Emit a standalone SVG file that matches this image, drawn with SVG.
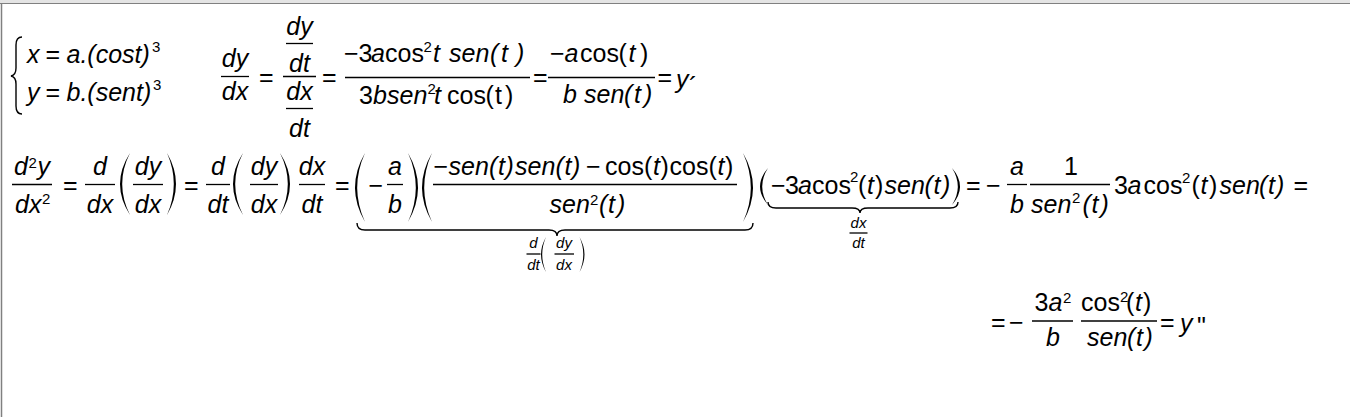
<svg xmlns="http://www.w3.org/2000/svg" width="1350" height="417" viewBox="0 0 1350 417">
<style>
text{font-family:"Liberation Sans",Arial,sans-serif;font-size:25px;fill:#000}
.i{font-style:italic}
.s{font-size:15px}
.l{font-size:15px;font-style:italic;text-anchor:middle}
.m{text-anchor:middle}
.bar{stroke:#000;stroke-width:1.3}
.pa{fill:#000}
.br{fill:none;stroke:#000;stroke-width:1.4}
</style>
<rect width="1350" height="417" fill="#fff"/>
<g id="frame">
<rect width="1350" height="3" fill="#e4e4e4"/>
<line x1="0" y1="3.5" x2="1350" y2="3.5" stroke="#808080"/>
<line x1="1.5" y1="3" x2="1.5" y2="417" stroke="#808080" stroke-width="1.5"/>
</g>
<g id="system">
<path class="br" d="M22,37 Q16,37 16,45 L16,68 Q16,75 11,76 Q16,77 16,84 L16,106 Q16,114 22,114"/>
<text x="27" y="63" class="i">x</text>
<text x="45.5" y="63">=</text>
<text x="66.5" y="63" class="i">a.(cost)</text>
<text x="152" y="52" class="s">3</text>
<text x="27" y="101" class="i">y</text>
<text x="45.5" y="101">=</text>
<text x="66.5" y="101" class="i">b.(sent)</text>
<text x="153" y="90" class="s">3</text>
</g>
<g id="first-derivative">
<text x="235" y="67" class="i m">dy</text>
<line class="bar" x1="221" y1="76.5" x2="249" y2="76.5"/>
<text x="235" y="100" class="i m">dx</text>
<text x="259" y="86">=</text>
<text x="299.5" y="35" class="i m">dy</text>
<line class="bar" x1="286" y1="43.5" x2="313" y2="43.5"/>
<text x="299.5" y="72" class="i m">dt</text>
<line class="bar" x1="283" y1="76.5" x2="316" y2="76.5"/>
<text x="299.5" y="100" class="i m">dx</text>
<line class="bar" x1="286" y1="108.5" x2="313" y2="108.5"/>
<text x="299.5" y="137" class="i m">dt</text>
<text x="322" y="86">=</text>
<text x="344" y="62">−3</text>
<text x="371" y="62" class="i">a</text>
<text x="385" y="62">cos</text>
<text x="423.5" y="52" class="s">2</text>
<text x="433" y="62" class="i">t</text>
<text x="449" y="62" class="i">sen</text>
<text x="490" y="62" class="i">(</text>
<text x="501" y="62" class="i">t</text>
<text x="516" y="62" class="i">)</text>
<line class="bar" x1="345" y1="77.5" x2="530" y2="77.5"/>
<text x="359" y="104">3</text>
<text x="373" y="104" class="i">b</text>
<text x="387" y="104" class="i">sen</text>
<text x="427.5" y="94" class="s">2</text>
<text x="434" y="104" class="i">t</text>
<text x="447" y="104">cos</text>
<text x="485.5" y="104">(</text>
<text x="495" y="104">t</text>
<text x="505" y="104">)</text>
<text x="533" y="86">=</text>
<text x="550" y="62">−</text>
<text x="564.5" y="62" class="i">a</text>
<text x="580" y="62">cos</text>
<text x="618.5" y="62">(</text>
<text x="628.5" y="62" class="i">t</text>
<text x="640" y="62">)</text>
<line class="bar" x1="548" y1="77.5" x2="655" y2="77.5"/>
<text x="563" y="103" class="i">b</text>
<text x="584" y="103" class="i">sen</text>
<text x="624" y="103" class="i">(</text>
<text x="634" y="103" class="i">t</text>
<text x="644" y="103" class="i">)</text>
<text x="657.5" y="86">=</text>
<text x="676" y="88" class="i">y</text>
<text x="689" y="95">´</text>
</g>
<g id="second-derivative">
<text x="14" y="175" class="i">d</text>
<text x="28.5" y="168" class="s">2</text>
<text x="37.5" y="175" class="i">y</text>
<line class="bar" x1="12" y1="184.5" x2="52" y2="184.5"/>
<text x="15" y="213" class="i">dx</text>
<text x="42" y="204" class="s">2</text>
<text x="63" y="194">=</text>
<text x="100" y="175" class="i m">d</text>
<line class="bar" x1="85" y1="184.5" x2="115" y2="184.5"/>
<text x="100" y="213" class="i m">dx</text>
<path class="pa" d="M130,153 Q110,184 130,215 Q114.4,184 130,153Z"/>
<text x="148" y="175" class="i m">dy</text>
<line class="bar" x1="133" y1="184.5" x2="163" y2="184.5"/>
<text x="148" y="213" class="i m">dx</text>
<path class="pa" d="M167,153 Q185,184 167,215 Q180.6,184 167,153Z"/>
<text x="184" y="194">=</text>
<text x="218" y="175" class="i m">d</text>
<line class="bar" x1="206" y1="184.5" x2="230" y2="184.5"/>
<text x="218" y="213" class="i m">dt</text>
<path class="pa" d="M243,153 Q223,184 243,215 Q227.4,184 243,153Z"/>
<text x="264" y="175" class="i m">dy</text>
<line class="bar" x1="250" y1="184.5" x2="278" y2="184.5"/>
<text x="264" y="213" class="i m">dx</text>
<path class="pa" d="M280,153 Q300,184 280,215 Q295.6,184 280,153Z"/>
<text x="312" y="175" class="i m">dx</text>
<line class="bar" x1="299" y1="184.5" x2="325" y2="184.5"/>
<text x="312" y="213" class="i m">dt</text>
<text x="335" y="194">=</text>
<path class="pa" d="M365,153 Q345,187.5 365,222 Q349.4,187.5 365,153Z"/>
<text x="368.5" y="194">−</text>
<text x="395" y="175" class="i m">a</text>
<line class="bar" x1="387" y1="184.5" x2="403" y2="184.5"/>
<text x="395" y="213" class="i m">b</text>
<path class="pa" d="M408,153 Q428,187.5 408,222 Q423.6,187.5 408,153Z"/>
<path class="pa" d="M432,153 Q412,187.5 432,222 Q416.4,187.5 432,153Z"/>
<text x="433.5" y="175">−</text>
<text x="448.5" y="175" class="i">sen</text>
<text x="489" y="175" class="i">(</text>
<text x="498" y="175" class="i">t</text>
<text x="505.5" y="175" class="i">)</text>
<text x="515" y="175" class="i">sen</text>
<text x="555.5" y="175" class="i">(</text>
<text x="564.5" y="175" class="i">t</text>
<text x="572" y="175" class="i">)</text>
<text x="586" y="175">−</text>
<text x="605" y="175">cos</text>
<text x="644" y="175">(</text>
<text x="653" y="175" class="i">t</text>
<text x="660.5" y="175">)</text>
<text x="669.5" y="175">cos</text>
<text x="708.5" y="175">(</text>
<text x="717.5" y="175" class="i">t</text>
<text x="725" y="175">)</text>
<line class="bar" x1="433" y1="184.5" x2="737" y2="184.5"/>
<text x="549.5" y="213" class="i">sen</text>
<text x="590" y="205" class="s">2</text>
<text x="599" y="213" class="i">(</text>
<text x="608" y="213" class="i">t</text>
<text x="617" y="213" class="i">)</text>
<path class="pa" d="M743,153 Q763,187.5 743,222 Q758.6,187.5 743,153Z"/>
<path class="br" d="M357,223 Q357,230 365,230 L549,230 Q557,230 557,236 Q557,230 565,230 L745,230 Q753,230 753,223"/>
<text x="533.5" y="248" class="l">d</text>
<line class="bar" x1="526.5" y1="254" x2="540.5" y2="254" stroke-width="1"/>
<text x="533.5" y="270" class="l">dt</text>
<path class="pa" d="M546,237 Q536,254.5 546,272 Q538.4,254.5 546,237Z"/>
<text x="564" y="248" class="l">dy</text>
<line class="bar" x1="554.5" y1="254" x2="574" y2="254" stroke-width="1"/>
<text x="564" y="270" class="l">dx</text>
<path class="pa" d="M579.5,237 Q589.5,254.5 579.5,272 Q587.1,254.5 579.5,237Z"/>
<path class="pa" d="M768,168 Q752,186.5 768,205 Q756.4,186.5 768,168Z"/>
<text x="771" y="194">−</text>
<text x="785" y="194">3</text>
<text x="798" y="194" class="i">a</text>
<text x="812" y="194">cos</text>
<text x="850" y="182" class="s">2</text>
<text x="858" y="194">(</text>
<text x="867" y="194" class="i">t</text>
<text x="875" y="194">)</text>
<text x="884.5" y="194" class="i">sen</text>
<text x="924.5" y="194" class="i">(</text>
<text x="933.5" y="194" class="i">t</text>
<text x="942" y="194" class="i">)</text>
<path class="pa" d="M952,168 Q968,186.5 952,205 Q963.6,186.5 952,168Z"/>
<path class="br" d="M768,202 Q768,208 776,208 L852,208 Q860,208 860,213 Q860,208 868,208 L950,208 Q958,208 958,202"/>
<text x="858.5" y="228" class="l">dx</text>
<line class="bar" x1="849.5" y1="233" x2="867.5" y2="233" stroke-width="1"/>
<text x="858.5" y="248" class="l">dt</text>
<text x="966" y="194">=</text>
<text x="986" y="194">−</text>
<text x="1017" y="175" class="i m">a</text>
<line class="bar" x1="1007" y1="184.5" x2="1027" y2="184.5"/>
<text x="1017" y="213" class="i m">b</text>
<text x="1071" y="175" class="m">1</text>
<line class="bar" x1="1030" y1="184.5" x2="1110" y2="184.5"/>
<text x="1031" y="213" class="i">sen</text>
<text x="1072" y="203" class="s">2</text>
<text x="1082.5" y="213" class="i">(</text>
<text x="1091.5" y="213" class="i">t</text>
<text x="1100.5" y="213" class="i">)</text>
<text x="1114" y="194">3</text>
<text x="1127.5" y="194" class="i">a</text>
<text x="1143.5" y="194">cos</text>
<text x="1182" y="183" class="s">2</text>
<text x="1191.5" y="194">(</text>
<text x="1200.5" y="194" class="i">t</text>
<text x="1209" y="194">)</text>
<text x="1219.5" y="194" class="i">sen</text>
<text x="1259" y="194" class="i">(</text>
<text x="1268" y="194" class="i">t</text>
<text x="1276" y="194" class="i">)</text>
<text x="1293.5" y="194">=</text>
</g>
<g id="result">
<text x="991" y="331">=</text>
<text x="1009" y="331">−</text>
<text x="1034.5" y="311">3</text>
<text x="1048.5" y="311" class="i">a</text>
<text x="1063" y="303" class="s">2</text>
<line class="bar" x1="1032" y1="321" x2="1073" y2="321"/>
<text x="1053" y="346" class="i m">b</text>
<text x="1081" y="311">cos</text>
<text x="1120" y="302" class="s">2</text>
<text x="1126" y="311">(</text>
<text x="1135" y="311" class="i">t</text>
<text x="1143" y="311">)</text>
<line class="bar" x1="1081" y1="321" x2="1157" y2="321"/>
<text x="1087" y="346" class="i">sen</text>
<text x="1127" y="346" class="i">(</text>
<text x="1136" y="346" class="i">t</text>
<text x="1144.5" y="346" class="i">)</text>
<text x="1160" y="331">=</text>
<text x="1180" y="332" class="i">y</text>
<text x="1197" y="335">"</text>
</g>
</svg>
